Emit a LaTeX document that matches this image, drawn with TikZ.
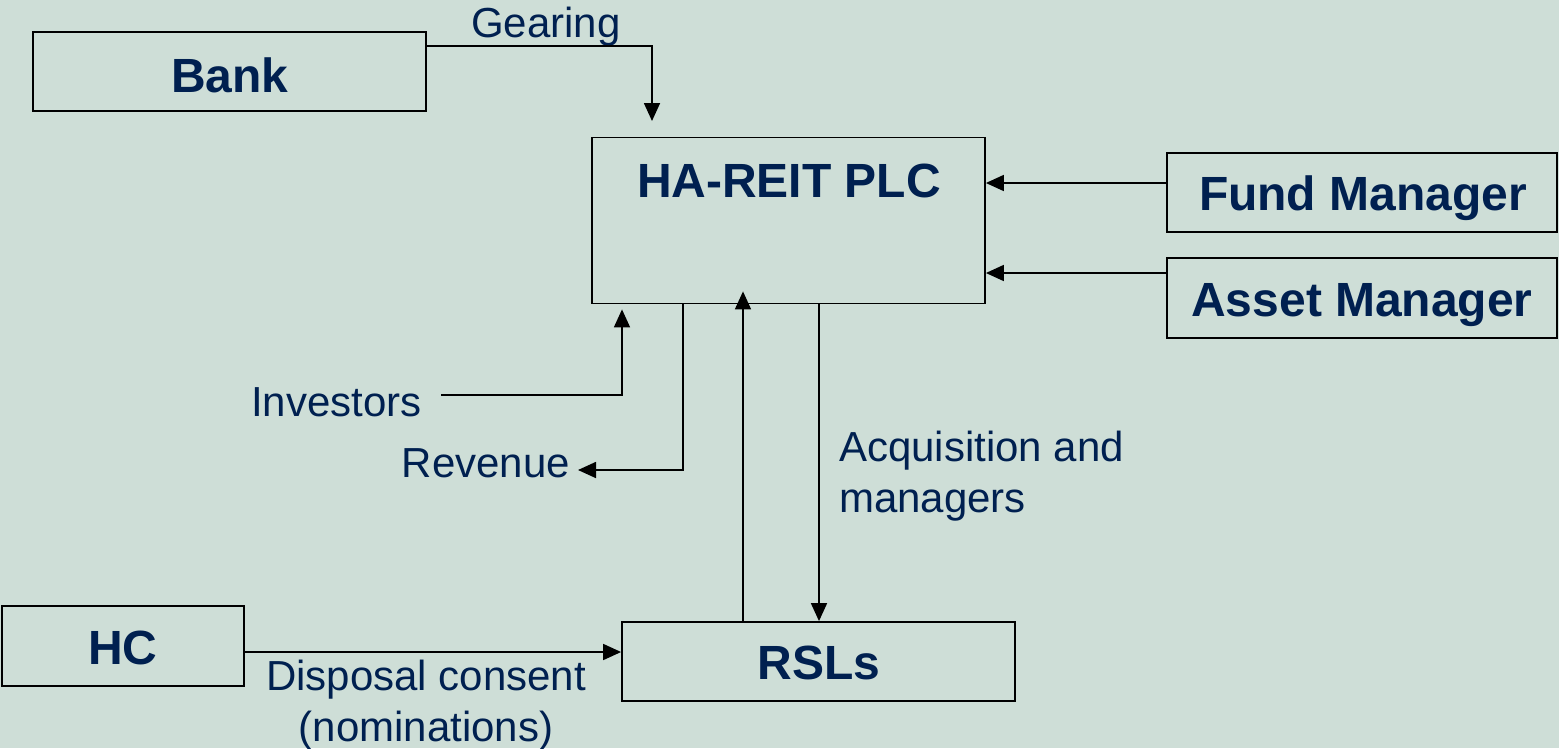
\documentclass[tikz,border=0pt]{standalone}
\usepackage{fontspec}
\setmainfont{Liberation Sans}
\usetikzlibrary{arrows.meta,calc}
\definecolor{bgcol}{RGB}{206,222,215}
\definecolor{navy}{RGB}{0,32,80}
\begin{document}
\begin{tikzpicture}[x=1pt,y=-1pt,
  box/.style={draw=black,line width=1.8pt,rectangle,inner sep=0pt},
  boldtxt/.style={font=\fontsize{48}{54}\selectfont\bfseries,text=navy,inner sep=0pt},
  lab/.style={font=\fontsize{42}{51}\selectfont,text=navy,inner sep=0pt},
  arr/.style={line width=1.7pt,draw=black,-{Triangle[length=18pt,width=16pt]}}]
\fill[bgcol] (0,0) rectangle (1559,748);
\useasboundingbox (0,0) rectangle (1559,748);

% boxes
\node[box,minimum width=393pt,minimum height=79pt] (bank) at (229.5,71.5) {};
\node[box,minimum width=393pt,minimum height=166pt] (hareit) at (788.5,220.5) {};
\node[box,minimum width=390pt,minimum height=79pt] (fund) at (1362,192.5) {};
\node[box,minimum width=390pt,minimum height=80pt] (asset) at (1362,298) {};
\node[box,minimum width=242pt,minimum height=80pt] (hc) at (123,646) {};
\node[box,minimum width=393pt,minimum height=79pt] (rsls) at (818.5,661.5) {};

% box texts
\node[boldtxt,anchor=base] (banktxt) at (230,92) {Bank};
\node[boldtxt,anchor=base] (hatxt) at (789,197) {HA-REIT PLC};
\node[boldtxt,anchor=base] (fundtxt) at (1363,210) {Fund Manager};
\node[boldtxt,anchor=base] (assettxt) at (1362,316) {Asset Manager};
\node[boldtxt,anchor=base] (hctxt) at (123,664) {HC};
\node[boldtxt,anchor=base] (rslstxt) at (819,679) {RSLs};

% labels
\node[lab,anchor=base] (gearing) at (546,37) {Gearing};
\node[lab,anchor=base west] (inv) at (251,416) {Investors};
\node[lab,anchor=base east] (rev) at (570,477) {Revenue};
\node[lab,anchor=north west,align=left] (acq) at (839,431) {Acquisition and\\managers};
\node[lab,anchor=north,align=center] (disp) at (426,660) {Disposal consent\\(nominations)};

% connectors
\coordinate (gtip) at (652,121);
\draw[arr] ([yshift=-15pt]bank.north east) -| (gtip);
\draw[arr] ([yshift=9.5pt]fund.west) -- (hareit.east |- 0,183);
\draw[arr] ([yshift=25pt]asset.west) -- (hareit.east |- 0,273);
\coordinate (invstart) at (441,395);
\draw[arr] (invstart) -| ([shift={(-166.5pt,-5pt)}]hareit.south);
\coordinate (revend) at (578,470);
\draw[arr] ([xshift=-105.5pt]hareit.south) |- (revend);
\draw[arr,shorten >=-13pt] (rsls.north -| 743,0) -- (hareit.south -| 743,0);
\draw[arr] (hareit.south -| 819,0) -- (rsls.north -| 819,0);
\draw[arr] ([yshift=-6pt]hc.east) -- (rsls.west |- 0,652);
\end{tikzpicture}
\end{document}
